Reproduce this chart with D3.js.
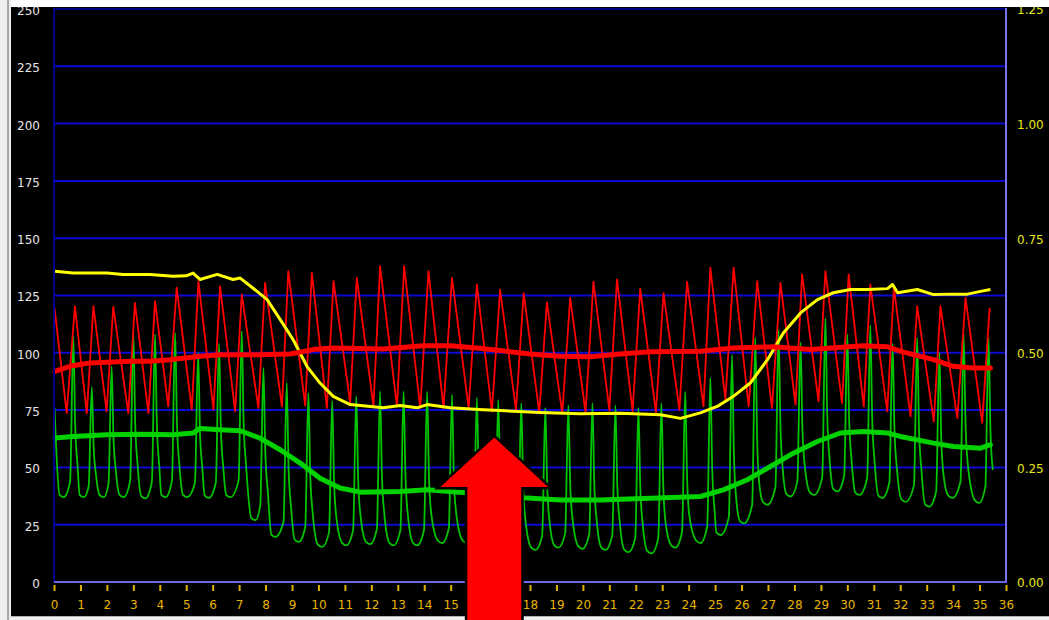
<!DOCTYPE html>
<html>
<head>
<meta charset="utf-8">
<script src="https://cdn.jsdelivr.net/npm/d3@7"></script>
<style>
  html, body { margin: 0; padding: 0; background: #000; overflow: hidden; }
  svg { display: block; }
  text { font-family: "DejaVu Sans", Verdana, sans-serif; font-size: 12px; }
</style>
</head>
<body>
<svg id="chart" width="1049" height="620"></svg>
<script>
// ---- axis ticks ----
const timeTicks = d3.range(0, 37);                       // seconds 0..36
const leftTicks = [0, 25, 50, 75, 100, 125, 150, 175, 200, 225, 250];
const rightTicks = [0, 0.25, 0.5, 0.75, 1.0, 1.25];

// ---- pressure waveform (red, left axis): trough / peak points ----
const redWave = [
  [0.02,119.5],
  [0.48,73.7],[0.79,120.3],[1.24,73.7],[1.49,120.3],[1.99,74.4],[2.24,120.0],
  [2.81,73.7],[3.06,121.8],[3.57,73.7],[3.82,122.5],[4.32,76.6],[4.64,128.4],
  [5.21,75.2],[5.46,131.3],[6.03,75.2],[6.28,129.0],[6.85,74.4],[7.10,125.4],
  [7.73,75.9],[7.98,130.5],[8.62,76.6],[8.86,135.6],[9.50,77.0],[9.75,134.9],
  [10.32,75.9],[10.57,131.3],[11.20,78.0],[11.45,132.7],[12.08,76.6],[12.33,137.8],
  [12.97,76.6],[13.24,137.8],[13.85,75.9],[14.16,135.6],[14.73,75.9],[15.05,132.7],
  [15.68,75.9],[15.99,129.8],[16.56,74.4],[16.87,127.6],[17.47,75.0],[17.76,126.0],
  [18.35,74.0],[18.64,122.0],[19.22,73.5],[19.52,124.0],[20.10,74.0],[20.40,131.0],
  [21.00,75.0],[21.29,132.0],[21.88,74.5],[22.17,128.0],[22.76,74.0],[23.05,126.0],
  [23.65,75.0],[23.94,131.0],[24.56,76.6],[24.82,137.1],[25.39,79.5],[25.70,137.1],
  [26.27,76.6],[26.59,131.3],[27.15,75.9],[27.47,130.5],[28.04,77.4],[28.29,134.2],
  [28.91,78.8],[29.17,135.6],[29.80,78.0],[30.05,134.2],[30.62,76.6],[30.87,129.8],
  [31.51,74.4],[31.76,128.4],[32.39,72.3],[32.64,120.3],[33.27,70.0],[33.52,120.3],
  [34.16,71.5],[34.47,124.0],[35.10,69.4],[35.38,119.6]
];

// ---- second waveform (green, left axis): one row per beat ----
// [trough time, trough value, peak time, peak value]
const greenStart = [0.02, 76];
const greenBeats = [
  [0.29,37.0,0.73,107.0],[1.05,37.0,1.43,85.0],[1.80,37.0,2.18,94.0],
  [2.56,37.0,3.00,109.0],[3.38,36.5,3.82,108.0],[4.14,37.0,4.58,108.7],
  [4.96,37.0,5.45,100.0],[5.78,36.7,6.24,104.0],[6.59,37.0,7.10,109.4],
  [7.54,27.0,7.92,93.4],[8.30,19.7,8.80,86.8],[9.18,17.5,9.62,82.5],
  [10.06,15.3,10.52,79.0],[10.98,16.0,11.43,81.0],[11.88,16.5,12.33,83.2],
  [12.77,16.0,13.22,83.2],[13.66,16.0,14.11,83.0],[14.60,17.0,15.05,81.7],
  [15.54,17.0,15.99,80.3],[16.35,15.0,16.80,79.5],[17.22,14.0,17.67,78.0],
  [18.13,14.0,18.58,76.0],[19.00,15.0,19.45,77.0],[19.91,14.5,20.36,78.0],
  [20.78,14.0,21.23,77.0],[21.65,13.0,22.10,76.0],[22.52,12.5,22.97,78.0],
  [23.42,15.0,23.87,83.0],[24.37,17.0,24.82,89.0],[25.13,20.5,25.64,99.0],
  [26.02,25.6,26.52,106.5],[26.90,33.7,27.40,110.0],[27.78,37.3,28.23,104.5],
  [28.67,38.0,29.17,115.0],[29.55,39.5,30.00,108.0],[30.38,38.0,30.87,112.0],
  [31.25,36.7,31.71,104.0],[32.13,35.0,32.64,106.5],[33.02,32.9,33.48,100.0],
  [33.90,36.7,34.40,108.0],[34.91,34.5,35.34,106.5]
];

// ---- mean traces ----
const redMean = [
  [0.04,91.9],[0.60,94.1],[1.36,95.6],[2.88,96.3],[3.63,96.3],[4.39,97.0],
  [5.52,98.5],[6.28,99.2],[7.79,99.2],[8.93,99.5],[9.80,101.4],[10.56,102.1],
  [12.45,101.7],[13.96,103.1],[14.98,103.1],[16.00,102.1],[16.87,101.0],
  [18.00,99.5],[19.15,98.5],[20.28,98.3],[21.40,99.5],[22.55,100.5],
  [24.44,100.7],[25.69,102.1],[27.20,102.6],[28.60,101.4],[30.60,103.1],
  [31.52,102.6],[32.00,100.7],[32.50,99.2],[33.26,97.0],[34.00,94.1],
  [34.77,93.4],[35.41,93.4]
];
const greenMean = [
  [0.04,62.8],[0.72,63.5],[2.00,64.2],[3.25,64.5],[4.50,64.2],[5.26,65.0],
  [5.52,67.0],[6.28,66.4],[7.04,66.0],[7.79,62.8],[8.55,57.7],[9.31,51.9],
  [10.06,45.3],[10.82,41.0],[11.58,39.2],[13.09,39.5],[14.11,40.2],[15.47,39.0],
  [16.87,38.0],[17.90,36.6],[19.15,35.8],[20.66,35.8],[22.55,36.5],[24.44,37.3],
  [25.31,40.2],[26.22,44.6],[27.09,50.4],[27.96,56.2],[28.87,61.3],[29.74,65.0],
  [30.61,65.7],[31.52,65.0],[32.00,63.5],[33.26,60.6],[34.01,59.1],[35.04,58.4],
  [35.41,59.9]
];
// yellow trace uses the right axis (0 - 1.25)
const yellowTrace = [
  [0.04,0.678],[0.72,0.674],[2.00,0.674],[2.61,0.671],[3.63,0.671],[4.50,0.667],
  [5.00,0.668],[5.26,0.674],[5.52,0.660],[6.17,0.671],[6.77,0.660],[7.04,0.663],
  [7.68,0.634],[8.06,0.616],[8.55,0.573],[9.04,0.529],[9.57,0.470],[10.06,0.434],
  [10.56,0.405],[11.20,0.387],[12.45,0.380],[13.09,0.385],[13.73,0.380],[14.11,0.387],
  [14.98,0.380],[16.23,0.376],[16.87,0.374],[18.39,0.370],[19.90,0.367],[21.42,0.368],
  [22.93,0.365],[23.69,0.357],[24.44,0.369],[25.08,0.383],[25.69,0.405],[26.33,0.434],
  [26.98,0.485],[27.58,0.543],[28.23,0.587],[28.87,0.616],[29.47,0.631],[30.12,0.638],
  [30.76,0.638],[31.52,0.640],[31.71,0.649],[31.90,0.631],[32.65,0.638],[33.26,0.627],
  [33.90,0.628],[34.54,0.628],[35.04,0.634],[35.41,0.638]
];

// ---- annotation arrow (time / left-axis units) ----
const arrowAt = 16.65, arrowTip = 63, arrowHeadBase = 41.5,
      arrowHeadHalf = 2.04, arrowShaftHalf = 1.02, arrowShaftEnd = -25;

// ---- layout ----
const svg = d3.select("#chart");
const W = 1049, H = 620;
const plot = { left: 54, right: 1006, top: 9, bottom: 582 };

const x = d3.scaleLinear().domain([0, 36]).range([plot.left, plot.right]);
const y = d3.scaleLinear().domain([0, 250]).range([plot.bottom, plot.top]);
const yR = d3.scaleLinear().domain([0, 1.25]).range([plot.bottom, plot.top]);

svg.append("rect").attr("width", W).attr("height", H).attr("fill", "#000");

// horizontal grid
svg.append("g")
  .selectAll("line")
  .data(leftTicks.filter(d => d > 0 && d < 250))
  .join("line")
  .attr("x1", plot.left).attr("x2", plot.right)
  .attr("y1", d => y(d)).attr("y2", d => y(d))
  .attr("stroke", "#0a0ad2").attr("stroke-width", 2);

// top frame
svg.append("line")
  .attr("x1", plot.left).attr("x2", plot.right)
  .attr("y1", y(250)).attr("y2", y(250))
  .attr("stroke", "#00008c").attr("stroke-width", 2);

// ---- series ----
const series = svg.append("g");
const lineL = d3.line().x(d => x(d[0])).y(d => y(d[1]));
const lineR = d3.line().x(d => x(d[0])).y(d => yR(d[1]));

// green pulse outline per beat: rounded trough, foot of upstroke, peak,
// fast fall, shoulder
const greenPts = [greenStart];
greenBeats.forEach(([tt, tv, pt, pv]) => {
  const amp = pv - tv;
  greenPts.push([tt - 0.08, tv + 1]);
  greenPts.push([tt + 0.08, tv]);
  greenPts.push([pt - 0.12, tv + amp * 0.1]);
  greenPts.push([pt, pv]);
  greenPts.push([pt + 0.07, tv + amp * 0.45]);
  greenPts.push([pt + 0.16, tv + amp * 0.2]);
});
const greenLine = d3.line().x(d => x(d[0])).y(d => y(d[1])).curve(d3.curveMonotoneX);

series.append("path").attr("d", greenLine(greenPts))
  .attr("fill", "none").attr("stroke", "#00c400").attr("stroke-width", 1.8)
  .attr("stroke-linejoin", "round");

series.append("path").attr("d", lineL(redWave))
  .attr("fill", "none").attr("stroke", "#ff0000").attr("stroke-width", 1.8)
  .attr("stroke-linejoin", "round");

series.append("path").attr("d", lineR(yellowTrace))
  .attr("fill", "none").attr("stroke", "#ffff00").attr("stroke-width", 3)
  .attr("stroke-linejoin", "round");

series.append("path").attr("d", lineL(greenMean))
  .attr("fill", "none").attr("stroke", "#00d200").attr("stroke-width", 5)
  .attr("stroke-linejoin", "round").attr("stroke-linecap", "round");

series.append("path").attr("d", lineL(redMean))
  .attr("fill", "none").attr("stroke", "#ff0000").attr("stroke-width", 5)
  .attr("stroke-linejoin", "round").attr("stroke-linecap", "round");

// ---- axes ----
// left axis
const gL = svg.append("g").attr("transform", `translate(${plot.left},0)`)
  .call(d3.axisLeft(y).tickValues(leftTicks).tickSize(0).tickPadding(14).tickFormat(d3.format("d")));
gL.select(".domain").remove();
gL.selectAll("text").attr("fill", "#e6e6e6").attr("dy", "0.45em");
svg.append("line")
  .attr("x1", plot.left).attr("x2", plot.left)
  .attr("y1", plot.top - 1).attr("y2", plot.bottom)
  .attr("stroke", "#00008c").attr("stroke-width", 2);

// right axis
const gR = svg.append("g").attr("transform", `translate(${plot.right},0)`)
  .call(d3.axisRight(yR).tickValues(rightTicks).tickSize(0).tickPadding(11).tickFormat(d3.format(".2f")));
gR.select(".domain").remove();
gR.selectAll("text").attr("fill", "#e6e619").attr("dy", "0.4em");
svg.append("line")
  .attr("x1", plot.right).attr("x2", plot.right)
  .attr("y1", plot.top - 1).attr("y2", plot.bottom + 1)
  .attr("stroke", "#7474ec").attr("stroke-width", 2);

// bottom axis
const gB = svg.append("g").attr("transform", `translate(0,${plot.bottom + 2})`)
  .call(d3.axisBottom(x).tickValues(timeTicks).tickSize(6).tickPadding(10).tickFormat(d3.format("d")));
gB.select(".domain").remove();
gB.selectAll(".tick line").attr("stroke", "#e0b000").attr("stroke-width", 2)
  .attr("y1", 1).attr("y2", 7);
gB.selectAll("text").attr("fill", "#e8b400");
svg.append("line")
  .attr("x1", plot.left).attr("x2", plot.right + 1)
  .attr("y1", plot.bottom).attr("y2", plot.bottom)
  .attr("stroke", "#6a6ae6").attr("stroke-width", 2);

// ---- window edges ----
svg.append("rect").attr("x", 0).attr("y", 0).attr("width", 11).attr("height", H).attr("fill", "#eeeeee");
svg.append("line").attr("x1", 8).attr("x2", 8).attr("y1", 0).attr("y2", H)
  .attr("stroke", "#a6a6a6").attr("stroke-width", 2);
svg.append("rect").attr("x", 11).attr("y", 0).attr("width", W - 11).attr("height", 7).attr("fill", "#ffffff");
svg.append("rect").attr("x", 11).attr("y", 616).attr("width", W - 11).attr("height", 4).attr("fill", "#f0f0f0");
svg.append("line").attr("x1", 11).attr("x2", W).attr("y1", 616.5).attr("y2", 616.5)
  .attr("stroke", "#b0b0b0").attr("stroke-width", 1);

// ---- arrow ----
const arrowPts = [
  [arrowAt, arrowTip],
  [arrowAt + arrowHeadHalf, arrowHeadBase],
  [arrowAt + arrowShaftHalf, arrowHeadBase],
  [arrowAt + arrowShaftHalf, arrowShaftEnd],
  [arrowAt - arrowShaftHalf, arrowShaftEnd],
  [arrowAt - arrowShaftHalf, arrowHeadBase],
  [arrowAt - arrowHeadHalf, arrowHeadBase]
];
svg.append("polygon")
  .attr("points", arrowPts.map(d => `${x(d[0])},${y(d[1])}`).join(" "))
  .attr("fill", "#ff0000").attr("stroke", "#000").attr("stroke-width", 5)
  .attr("stroke-linejoin", "miter").attr("paint-order", "stroke");
</script>
</body>
</html>
